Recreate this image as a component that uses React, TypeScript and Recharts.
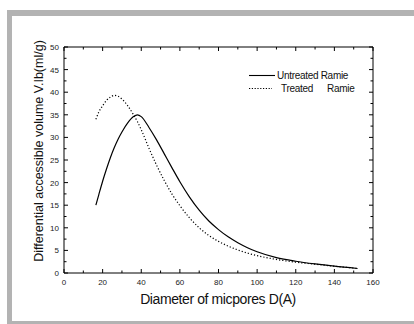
import React from "react";
import { LineChart, Line, XAxis, YAxis, Label } from "recharts";

// pore diameter D (A) and differential accessible volume (ml/g)
const diameters = [16.5, 18, 20, 22, 24, 26, 28, 30, 33, 36, 38, 40, 44, 48, 52, 56, 60, 65, 70, 75, 80, 85, 90, 95, 100, 110, 120, 130, 140, 152];
const untreatedRamie = [15, 17.3, 20.3, 23, 25.5, 27.7, 29.6, 31.2, 33.2, 34.6, 35, 34.6, 32.2, 29.4, 26.3, 23.2, 20.2, 16.8, 13.9, 11.5, 9.6, 8.0, 6.7, 5.6, 4.7, 3.4, 2.6, 2.0, 1.5, 1.0];
const treatedRamie = [34, 35.6, 37, 38.2, 38.9, 39.3, 39.1, 38.5, 37, 35, 33.5, 31.7, 27.6, 23.8, 20.4, 17.4, 14.9, 12.2, 10.0, 8.3, 7.0, 5.95, 5.1, 4.4, 3.85, 3.0, 2.4, 1.95, 1.5, 1.0];

const xTicks = [0, 10, 20, 30, 40, 50, 60, 70, 80, 90, 100, 110, 120, 130, 140, 150, 160];
const yTicks = [0, 2.5, 5, 7.5, 10, 12.5, 15, 17.5, 20, 22.5, 25, 27.5, 30, 32.5, 35, 37.5, 40, 42.5, 45, 47.5, 50];

const data = diameters.map((d, i) => ({
  d,
  untreated: untreatedRamie[i],
  treated: treatedRamie[i],
}));

const FONT = "'Liberation Sans', Arial, sans-serif";
const INK = "#000";

function BottomTick({ x, y, payload }: any) {
  const major = payload.value % 20 === 0;
  return (
    <g>
      <line x1={x} y1={y} x2={x} y2={y - (major ? 4 : 2.5)} stroke={INK} strokeWidth={1} />
      {major && (
        <text x={x} y={y + 12} textAnchor="middle" fontSize={8} fontFamily={FONT} fill="#222">
          {payload.value}
        </text>
      )}
    </g>
  );
}

function TopTick({ x, y, payload }: any) {
  const major = payload.value % 20 === 0;
  return <line x1={x} y1={y} x2={x} y2={y + (major ? 4 : 2.5)} stroke={INK} strokeWidth={1} />;
}

function LeftTick({ x, y, payload }: any) {
  const major = payload.value % 5 === 0;
  return (
    <g>
      <line x1={x} y1={y} x2={x + (major ? 4 : 2.5)} y2={y} stroke={INK} strokeWidth={1} />
      {major && (
        <text x={x - 5} y={y + 3} textAnchor="end" fontSize={8} fontFamily={FONT} fill="#222">
          {payload.value}
        </text>
      )}
    </g>
  );
}

function RightTick({ x, y, payload }: any) {
  const major = payload.value % 5 === 0;
  return <line x1={x} y1={y} x2={x - (major ? 4 : 2.5)} y2={y} stroke={INK} strokeWidth={1} />;
}

export default function App() {
  return (
    <div style={{ position: "fixed", left: 0, top: 0, width: 414, height: 324, background: "#fff" }}>
      {/* grey picture frame */}
      <div
        style={{
          position: "absolute",
          left: 7,
          top: 10,
          width: 407,
          height: 314,
          boxSizing: "border-box",
          borderTop: "6px solid #b3b3b3",
          borderLeft: "5px solid #b3b3b3",
          borderBottom: "3px solid #b3b3b3",
        }}
      />
      <div style={{ position: "absolute", left: 0, top: 0 }}>
        <LineChart width={414} height={324} data={data} margin={{ top: 37, right: 31, bottom: 33, left: 24 }}>
          <XAxis
            xAxisId="b"
            dataKey="d"
            type="number"
            domain={[0, 160]}
            ticks={xTicks}
            interval={0}
            height={18}
            tickSize={0}
            tickMargin={0}
            tickLine={false}
            tick={<BottomTick />}
            axisLine={{ stroke: INK, strokeWidth: 1 }}
            allowDataOverflow
          >
            <Label
              content={() => (
                <text x={218} y={304} textAnchor="middle" fontSize={14} letterSpacing={-0.4} fontFamily={FONT} fill="#111">
                  Diameter of micpores D(A)
                </text>
              )}
            />
          </XAxis>
          <XAxis
            xAxisId="t"
            orientation="top"
            dataKey="d"
            type="number"
            domain={[0, 160]}
            ticks={xTicks}
            interval={0}
            height={10}
            tickSize={0}
            tickMargin={0}
            tickLine={false}
            tick={<TopTick />}
            axisLine={{ stroke: INK, strokeWidth: 1 }}
            allowDataOverflow
          >
            <Label
              content={() => (
                <g fontFamily={FONT} fontSize={10} fill="#111">
                  <line x1={249} y1={75.5} x2={275} y2={75.5} stroke={INK} strokeWidth={1.1} />
                  <text x={277} y={79} letterSpacing={-0.3}>Untreated Ramie</text>
                  <line x1={249} y1={88.5} x2={272} y2={88.5} stroke={INK} strokeWidth={1.1} strokeDasharray="1.2 1.6" />
                  <text x={281} y={92} letterSpacing={-0.3}>Treated</text>
                  <text x={327} y={92} letterSpacing={-0.3}>Ramie</text>
                </g>
              )}
            />
          </XAxis>
          <YAxis
            yAxisId="l"
            type="number"
            domain={[0, 50]}
            ticks={yTicks}
            interval={0}
            width={40}
            tickSize={0}
            tickMargin={0}
            tickLine={false}
            tick={<LeftTick />}
            axisLine={{ stroke: INK, strokeWidth: 1 }}
            allowDataOverflow
          >
            <Label
              content={() => (
                <text
                  x={42.5}
                  y={151}
                  transform="rotate(-90 42.5 151)"
                  textAnchor="middle"
                  fontSize={12.5}
                  fontFamily={FONT}
                  fill="#111"
                >
                  Differential accessible volume V.Ib(ml/g)
                </text>
              )}
            />
          </YAxis>
          <YAxis
            yAxisId="r"
            orientation="right"
            type="number"
            domain={[0, 50]}
            ticks={yTicks}
            interval={0}
            width={10}
            tickSize={0}
            tickMargin={0}
            tickLine={false}
            tick={<RightTick />}
            axisLine={{ stroke: INK, strokeWidth: 1 }}
            allowDataOverflow
          />
          <Line
            xAxisId="b"
            yAxisId="l"
            type="monotone"
            dataKey="untreated"
            stroke={INK}
            strokeWidth={1.2}
            dot={false}
            isAnimationActive={false}
          />
          <Line
            xAxisId="b"
            yAxisId="l"
            type="monotone"
            dataKey="treated"
            stroke={INK}
            strokeWidth={1.2}
            strokeDasharray="1.2 2"
            dot={false}
            isAnimationActive={false}
          />
        </LineChart>
      </div>
    </div>
  );
}
